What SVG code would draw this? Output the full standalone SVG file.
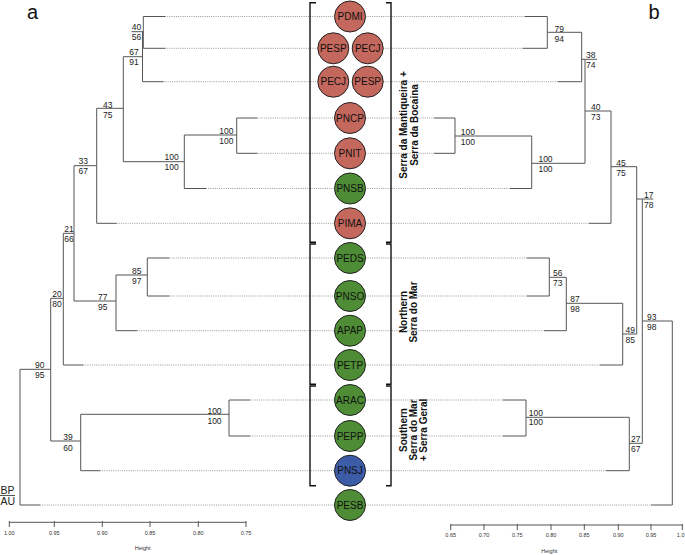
<svg xmlns="http://www.w3.org/2000/svg" width="685" height="555" viewBox="0 0 685 555">
<style>
.s{fill:none;stroke:#555;stroke-width:1}
.d{fill:none;stroke:#999;stroke-width:1;stroke-dasharray:1 1.2}
.br{fill:none;stroke:#111;stroke-width:1.4}
.v{font-family:"Liberation Sans",Arial,sans-serif;font-size:8.5px;fill:#222;text-anchor:middle}
.ax{font-family:"Liberation Sans",Arial,sans-serif;font-size:5.5px;fill:#333;text-anchor:middle}
.n circle{stroke:#222;stroke-width:1}
.n text{font-family:"Liberation Sans",Arial,sans-serif;font-size:10px;fill:#111;text-anchor:middle}
.r{fill:#c4675c}.g{fill:#4e8c35}.b{fill:#3c5ca8}
.grp{font-family:"Liberation Sans",Arial,sans-serif;font-size:10px;font-weight:bold;fill:#111;text-anchor:middle}
.pl{font-family:"Liberation Sans",Arial,sans-serif;font-size:20px;fill:#111}
</style>
<rect width="685" height="555" fill="#fff"/>
<g id="connectors">
<path class="d" d="M165 16.5H334.5M165 48.3H317.8M163.3 81.7H317.8M257.3 118H334.5M257.3 153.3H334.5M206 188.5H334.5M116.7 223.3H334.5M169.3 258H334.5M169.3 296H334.5M137 330.7H334.5M83 365H334.5M250 400H334.5M250 436H334.5M100 470.7H334.5M40 505H334.5"/>
<path class="d" d="M365.5 16.5H525M383.2 48.3H523M383.2 81.7H558M365.5 118H434M365.5 153.3H434M365.5 188.5H510M365.5 223.3H589M365.5 258H527M365.5 296H527M365.5 330.7H544M365.5 365H600M365.5 400H503M365.5 436H503M365.5 470.7H606M365.5 505H651"/>
<path class="s" d="M165 16.5H143.3V48.3H165M131.5 31.7H143.3M142.5 32V81.7H163.3M123.3 56.7H142.5M96.7 108.3H123.3M123.3 56.7V161.7H184.3M184.3 135H236.7M257.3 118H236.7V153.3H257.3M184.3 135V188.5H206M74 165.7H96.7M96.7 108.3V223.3H116.7M63.3 233.3H74M74 165.7V301H116M116 275H147.3M169.3 258H147.3V296H169.3M116 275V330.7H137M50.7 298.3H63.3M63.3 233.3V365H83M20 369.3H50.7M50.7 298.3V441H80.7M80.7 414.3H229M250 400H229V436H250M80.7 414.3V470.7H100M20 369.3V505H40"/>
<path class="s" d="M525 16.5H547.3V48.3H523M547.3 32.3H581.7M558 81.7H581.7V32.3M581.7 59.3H597M585 59.3V163.3M585 111H611M434 118H455V153.3H434M455 136H531.7M510 188.5H531.7V136M531.7 163.3H585M611 111V223.3H589M611 166.7H636.7M636.7 166.7V334M636.7 199H653.3M642.3 199V443.3M527 258H549.3V296H527M549.3 277.3H566.3M544 330.7H566.3V277.3M566.3 303.3H622.7M600 365H622.7V303.3M622.7 334H636.7M642.3 321H672.3M503 400H526V436H503M526 417.3H629.3M606 470.7H629.3V417.3M629.3 443.3H642.3M651 505H672.3V321"/>
<path class="s" d="M0 495.5H15"/>
</g>
<g id="brackets">
<path class="br" d="M316 2.7H310V242.2H316M316 244H310V384.2H316M316 386H310V485.7H316"/>
<path class="br" d="M386 2.7H391V242.2H386M386 244H391V384.2H386M386 386H391V485.7H386"/>
</g>
<g id="node-PDMI" class="n"><circle class="r" cx="350" cy="16.5" r="15.5"/><text x="350" y="20">PDMI</text></g>
<g id="node-PESP1" class="n"><circle class="r" cx="333.3" cy="48.3" r="15.5"/><text x="333.3" y="51.8">PESP</text></g>
<g id="node-PECJ1" class="n"><circle class="r" cx="367.7" cy="48.3" r="15.5"/><text x="367.7" y="51.8">PECJ</text></g>
<g id="node-PECJ2" class="n"><circle class="r" cx="333.3" cy="81.7" r="15.5"/><text x="333.3" y="85.2">PECJ</text></g>
<g id="node-PESP2" class="n"><circle class="r" cx="367.7" cy="81.7" r="15.5"/><text x="367.7" y="85.2">PESP</text></g>
<g id="node-PNCP" class="n"><circle class="r" cx="350" cy="118" r="15.5"/><text x="350" y="121.5">PNCP</text></g>
<g id="node-PNIT" class="n"><circle class="r" cx="350" cy="153.3" r="15.5"/><text x="350" y="156.8">PNIT</text></g>
<g id="node-PNSB" class="n"><circle class="g" cx="350" cy="188.5" r="15.5"/><text x="350" y="192">PNSB</text></g>
<g id="node-PIMA" class="n"><circle class="r" cx="350" cy="223.3" r="15.5"/><text x="350" y="226.8">PIMA</text></g>
<g id="node-PEDS" class="n"><circle class="g" cx="350" cy="258" r="15.5"/><text x="350" y="261.5">PEDS</text></g>
<g id="node-PNSO" class="n"><circle class="g" cx="350" cy="296" r="15.5"/><text x="350" y="299.5">PNSO</text></g>
<g id="node-APAP" class="n"><circle class="g" cx="350" cy="330.7" r="15.5"/><text x="350" y="334.2">APAP</text></g>
<g id="node-PETP" class="n"><circle class="g" cx="350" cy="365" r="15.5"/><text x="350" y="368.5">PETP</text></g>
<g id="node-ARAC" class="n"><circle class="g" cx="350" cy="400" r="15.5"/><text x="350" y="403.5">ARAC</text></g>
<g id="node-PEPP" class="n"><circle class="g" cx="350" cy="436" r="15.5"/><text x="350" y="439.5">PEPP</text></g>
<g id="node-PNSJ" class="n"><circle class="b" cx="350" cy="470.7" r="15.5"/><text x="350" y="474.2">PNSJ</text></g>
<g id="node-PESB" class="n"><circle class="g" cx="350" cy="505" r="15.5"/><text x="350" y="508.5">PESB</text></g>
<g id="group-labels">
<text class="grp" transform="translate(406.5 125) rotate(-90)">Serra da Mantiqueira +</text>
<text class="grp" transform="translate(418 125) rotate(-90)">Serra da Bocaina</text>
<text class="grp" transform="translate(406.5 312) rotate(-90)">Northern</text>
<text class="grp" transform="translate(417 312) rotate(-90)">Serra do Mar</text>
<text class="grp" transform="translate(406.5 430) rotate(-90)">Southern</text>
<text class="grp" transform="translate(416.5 430) rotate(-90)">Serra do Mar</text>
<text class="grp" transform="translate(426.5 430) rotate(-90)">+ Serra Geral</text>
</g>
<g id="support-values">
<text class="v" x="136.5" y="30">40</text><text class="v" x="136.5" y="39.5">56</text>
<text class="v" x="134" y="55.3">67</text><text class="v" x="134" y="65">91</text>
<text class="v" x="107.7" y="107.5">43</text><text class="v" x="107.7" y="117.5">75</text>
<text class="v" x="171.7" y="160">100</text><text class="v" x="171.7" y="170">100</text>
<text class="v" x="226.3" y="134">100</text><text class="v" x="226.3" y="144.3">100</text>
<text class="v" x="83.3" y="164.3">33</text><text class="v" x="83.3" y="174.3">67</text>
<text class="v" x="69" y="232.3">21</text><text class="v" x="69" y="242.3">66</text>
<text class="v" x="102.7" y="300">77</text><text class="v" x="102.7" y="310">95</text>
<text class="v" x="136.7" y="274">85</text><text class="v" x="136.7" y="283.5">97</text>
<text class="v" x="57" y="297.3">20</text><text class="v" x="57" y="307.3">80</text>
<text class="v" x="39.7" y="368.3">90</text><text class="v" x="39.7" y="378.3">95</text>
<text class="v" x="68" y="440">39</text><text class="v" x="68" y="450.5">60</text>
<text class="v" x="214.5" y="413.5">100</text><text class="v" x="214.5" y="423.5">100</text>
<text class="v" x="559.3" y="31.5">79</text><text class="v" x="559.3" y="41.7">94</text>
<text class="v" x="590.7" y="58.3">38</text><text class="v" x="590.7" y="68.3">74</text>
<text class="v" x="595.7" y="110">40</text><text class="v" x="595.7" y="120">73</text>
<text class="v" x="467.8" y="135">100</text><text class="v" x="467.8" y="144.5">100</text>
<text class="v" x="545.5" y="162.3">100</text><text class="v" x="545.5" y="172.3">100</text>
<text class="v" x="621" y="166">45</text><text class="v" x="621" y="176">75</text>
<text class="v" x="648.7" y="197.5">17</text><text class="v" x="648.7" y="207.5">78</text>
<text class="v" x="557.7" y="276">56</text><text class="v" x="557.7" y="286">73</text>
<text class="v" x="575" y="302.3">87</text><text class="v" x="575" y="312.3">98</text>
<text class="v" x="630.3" y="332.7">49</text><text class="v" x="630.3" y="342.7">85</text>
<text class="v" x="651.7" y="320">93</text><text class="v" x="651.7" y="330">98</text>
<text class="v" x="535.8" y="415.8">100</text><text class="v" x="535.8" y="425.3">100</text>
<text class="v" x="635.7" y="441.7">27</text><text class="v" x="635.7" y="451.7">67</text>
<text x="0.5" y="494" style="font-family:'Liberation Sans',Arial,sans-serif;font-size:10.5px;fill:#222">BP</text>
<text x="0.5" y="505" style="font-family:'Liberation Sans',Arial,sans-serif;font-size:10.5px;fill:#222">AU</text>
</g>
<g id="axes">
<path class="s" d="M9.3 522.3H246M9.3 521V527M54.3 521V527M102.3 521V527M150 521V527M198.3 521V527M246 521V527"/>
<text class="ax" x="9.3" y="534.5">1.00</text><text class="ax" x="54.3" y="534.5">0.95</text><text class="ax" x="102.3" y="534.5">0.90</text><text class="ax" x="150" y="534.5">0.85</text><text class="ax" x="198.3" y="534.5">0.80</text><text class="ax" x="246" y="534.5">0.75</text>
<text class="ax" x="142.7" y="550">Height</text>
<path class="s" d="M450.7 525H682.3M450.7 524V530M484 524V530M517.3 524V530M551 524V530M584.3 524V530M618.3 524V530M651 524V530M682.3 524V530"/>
<text class="ax" x="450.7" y="537">0.65</text><text class="ax" x="484" y="537">0.70</text><text class="ax" x="517.3" y="537">0.75</text><text class="ax" x="551" y="537">0.80</text><text class="ax" x="584.3" y="537">0.85</text><text class="ax" x="618.3" y="537">0.90</text><text class="ax" x="651" y="537">0.95</text><text class="ax" x="684.5" y="537" style="text-anchor:end">1.0</text>
<text class="ax" x="549.3" y="553">Height</text>
</g>
<text class="pl" x="27" y="19">a</text>
<text class="pl" x="648.5" y="18.5">b</text>
</svg>
